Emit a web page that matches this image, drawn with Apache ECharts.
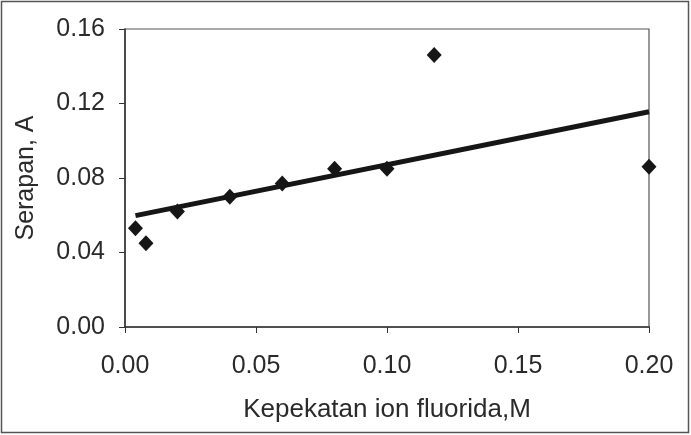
<!DOCTYPE html>
<html>
<head>
<meta charset="utf-8">
<script src="https://cdn.jsdelivr.net/npm/echarts@6/dist/echarts.min.js"></script>
<style>
html,body{margin:0;padding:0;background:#fff;}
#c{width:691px;height:435px;}
</style>
</head>
<body>
<div id="c"></div>
<script>
// Data
var concentration = [0.004, 0.008, 0.020, 0.040, 0.060, 0.080, 0.100, 0.118, 0.200];
var absorbance   = [0.053, 0.045, 0.062, 0.070, 0.077, 0.085, 0.085, 0.146, 0.086];
var trendX = [0.004, 0.200];
var trendY = [0.0598, 0.1156];
var xTicks = [0.00, 0.05, 0.10, 0.15, 0.20];
var yTicks = [0.00, 0.04, 0.08, 0.12, 0.16];
var xTitle = 'Kepekatan ion fluorida,M';
var yTitle = 'Serapan, A';

var font = "'Liberation Sans', Arial, sans-serif";
var chart = echarts.init(document.getElementById('c'), null, {renderer: 'canvas'});
chart.setOption({
  backgroundColor: '#ffffff',
  animation: false,
  graphic: [{
    type: 'rect',
    shape: {x: 1.5, y: 1.5, width: 687, height: 431},
    style: {fill: 'none', stroke: '#555', lineWidth: 1.5},
    silent: true
  }],
  grid: {
    left: 125, right: 42, top: 29, bottom: 108,
    show: true, borderColor: '#555', borderWidth: 1.2, backgroundColor: '#fff'
  },
  xAxis: {
    type: 'value',
    min: xTicks[0], max: xTicks[xTicks.length - 1], interval: 0.05,
    name: xTitle, nameLocation: 'middle', nameGap: 70,
    nameTextStyle: {fontFamily: font, fontSize: 26, color: '#2a2a2a'},
    axisLine: {show: true, onZero: false, lineStyle: {color: '#333', width: 1.5}},
    axisTick: {show: true, inside: false, length: 6, lineStyle: {color: '#333'}},
    axisLabel: {fontFamily: font, fontSize: 25, color: '#2a2a2a', margin: 27,
      formatter: function (v) { return v.toFixed(2); }},
    splitLine: {show: false}
  },
  yAxis: {
    type: 'value',
    min: yTicks[0], max: yTicks[yTicks.length - 1], interval: 0.04,
    name: yTitle, nameLocation: 'middle', nameGap: 86,
    nameTextStyle: {fontFamily: font, fontSize: 25, color: '#2a2a2a'},
    axisLine: {show: true, onZero: false, lineStyle: {color: '#333', width: 1.5}},
    axisTick: {show: true, inside: false, length: 6, lineStyle: {color: '#333'}},
    axisLabel: {fontFamily: font, fontSize: 25, color: '#2a2a2a', margin: 20,
      formatter: function (v) { return v.toFixed(2); }},
    splitLine: {show: false}
  },
  series: [
    {
      type: 'line',
      data: trendX.map(function (x, i) { return [x, trendY[i]]; }),
      showSymbol: false, symbol: 'none',
      lineStyle: {color: '#161616', width: 5},
      z: 2
    },
    {
      type: 'scatter',
      data: concentration.map(function (x, i) { return [x, absorbance[i]]; }),
      symbol: 'diamond', symbolSize: [15, 16],
      itemStyle: {color: '#161616', opacity: 1},
      z: 3
    }
  ]
});
</script>
</body>
</html>
